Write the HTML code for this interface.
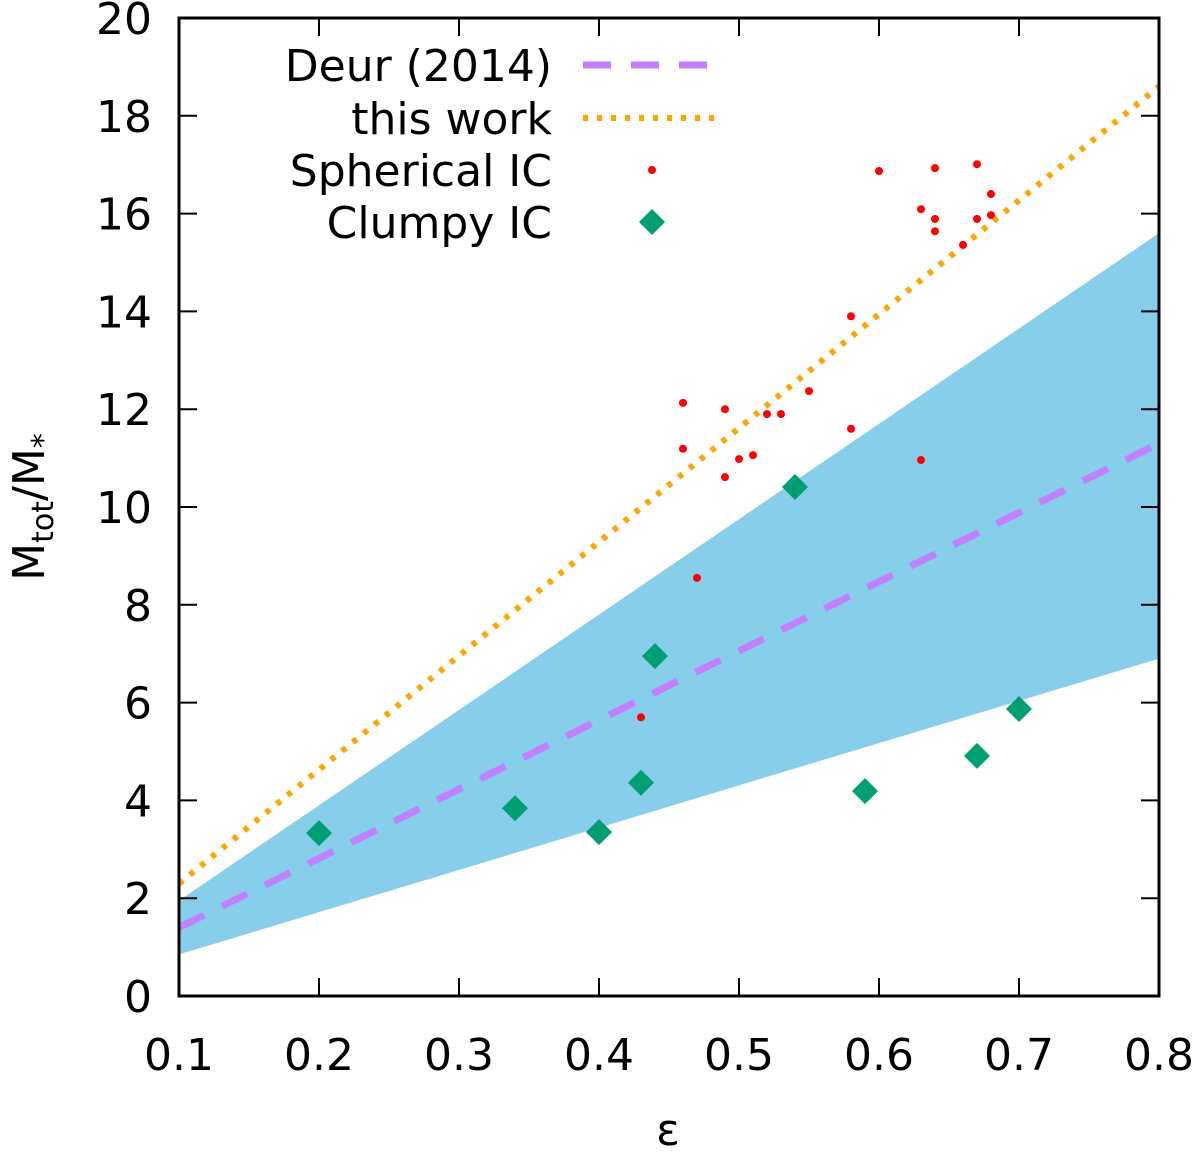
<!DOCTYPE html>
<html><head><meta charset="utf-8"><style>
body{margin:0;background:#fff}
svg text{font-family:"DejaVu Sans","Liberation Sans",sans-serif;fill:#000}
</style></head><body>
<svg id="chart" width="1200" height="1147" xmlns="http://www.w3.org/2000/svg">
<g id="band"></g>
<g id="lines"></g>
<g id="pts"></g>
<g id="axes"></g>
<g id="legend"></g>
<text x="668" y="1145" font-size="44" text-anchor="middle">ε</text>
<text transform="translate(44,507) rotate(-90)" font-size="44" text-anchor="middle">M<tspan font-size="30" dy="9">tot</tspan><tspan dy="-9">/M</tspan><tspan font-size="30" dy="9">*</tspan></text>
</svg>
<script>
const xTicks=[0.1,0.2,0.3,0.4,0.5,0.6,0.7,0.8];
const yTicks=[0,2,4,6,8,10,12,14,16,18,20];
const bandX=[0.1,0.8];
const bandUpper=[1.95,15.6];
const bandLower=[0.85,6.9];
const deurX=[0.1,0.8];
const deurY=[1.4,11.3];
const workX=[0.1,0.8];
const workY=[2.3,18.6];
const sphX=[0.46,0.46,0.49,0.49,0.50,0.51,0.52,0.53,0.55,0.58,0.58,0.47,0.43,0.60,0.63,0.64,0.64,0.64,0.66,0.67,0.67,0.68,0.68,0.63];
const sphY=[12.13,11.19,12.0,10.61,10.98,11.06,11.9,11.9,12.37,13.9,11.6,8.55,5.7,16.87,16.09,16.93,15.89,15.64,15.36,17.01,15.89,16.4,15.97,10.96];
const clX=[0.2,0.34,0.40,0.43,0.44,0.54,0.59,0.67,0.70];
const clY=[3.33,3.84,3.35,4.36,6.95,10.41,4.19,4.91,5.87];
const L=179,R=1159,T=18,B=996;
const sx=v=>L+(v-0.1)/0.7*(R-L);
const sy=v=>B-v/20*(B-T);
const NS="http://www.w3.org/2000/svg";
function mk(tag,parent,attrs){const e=document.createElementNS(NS,tag);for(const k in attrs)e.setAttribute(k,attrs[k]);document.getElementById(parent).appendChild(e);return e;}
let bp=`M${sx(bandX[0])},${sy(bandUpper[0])} L${sx(bandX[1])},${sy(bandUpper[1])} L${sx(bandX[1])},${sy(bandLower[1])} L${sx(bandX[0])},${sy(bandLower[0])}Z`;
let b=mk('path','band',{d:bp,fill:'#87ceeb'});


let l1=mk('line','lines',{x1:sx(workX[0]),y1:sy(workY[0]),x2:sx(workX[1]),y2:sy(workY[1]),stroke:'#ffa500','stroke-width':6,'stroke-dasharray':'5 9'});


let l2=mk('line','lines',{x1:sx(deurX[0]),y1:sy(deurY[0]),x2:sx(deurX[1]),y2:sy(deurY[1]),stroke:'#c080ff','stroke-width':7,'stroke-dasharray':'28 20'});


sphX.forEach((x,i)=>{let c=mk('circle','pts',{cx:sx(x),cy:sy(sphY[i]),r:4,fill:'#ff0000'});

});
clX.forEach((x,i)=>{const cx=sx(x),cy=sy(clY[i]),s=13;let d=mk('path','pts',{d:`M${cx},${cy-s}L${cx+s},${cy}L${cx},${cy+s}L${cx-s},${cy}Z`,fill:'#009e73'});

});
let fr=mk('rect','axes',{x:L,y:T,width:R-L,height:B-T,fill:'none',stroke:'#000','stroke-width':3});


xTicks.forEach(v=>{const x=sx(v);mk('line','axes',{x1:x,y1:B,x2:x,y2:B-18,stroke:'#000','stroke-width':2});mk('line','axes',{x1:x,y1:T,x2:x,y2:T+18,stroke:'#000','stroke-width':2});
let t=mk('text','axes',{x:x,y:1070,'font-size':44,'text-anchor':'middle'});t.textContent=v.toFixed(1);

});
yTicks.forEach(v=>{const y=sy(v);mk('line','axes',{x1:L,y1:y,x2:L+18,y2:y,stroke:'#000','stroke-width':2});mk('line','axes',{x1:R,y1:y,x2:R-18,y2:y,stroke:'#000','stroke-width':2});
let t=mk('text','axes',{x:152,y:y+16,'font-size':44,'text-anchor':'end'});t.textContent=v;

});
const lg=[['Deur (2014)',65],['this work',118],['Spherical IC',170],['Clumpy IC',222]];
lg.forEach(([s,y],i)=>{let t=mk('text','legend',{x:552,y:y+16,'font-size':44,'text-anchor':'end'});t.textContent=s;


if(i==0)mk('line','legend',{x1:583,y1:y,x2:715,y2:y,stroke:'#c080ff','stroke-width':7,'stroke-dasharray':'28 20'});
if(i==1)mk('line','legend',{x1:583,y1:y,x2:715,y2:y,stroke:'#ffa500','stroke-width':6,'stroke-dasharray':'5 9'});
if(i==2)mk('circle','legend',{cx:652,cy:y,r:4,fill:'#ff0000'});
if(i==3)mk('path','legend',{d:`M652,${y-13}L665,${y}L652,${y+13}L639,${y}Z`,fill:'#009e73'});});
</script>
</body></html>
